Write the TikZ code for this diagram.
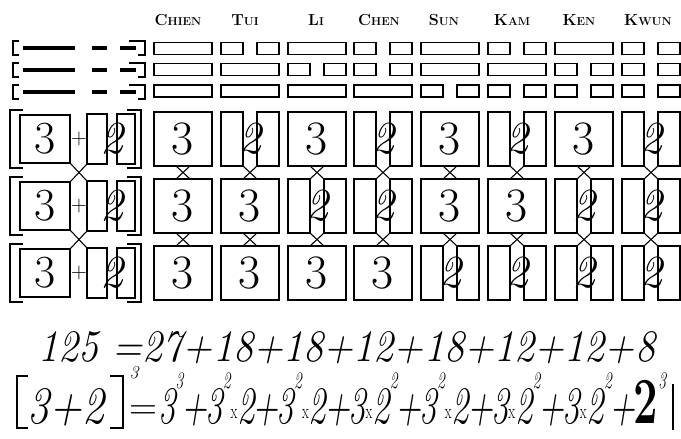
\documentclass[tikz,border=0pt]{standalone}
\usetikzlibrary{calc}
\newcommand\myexp[1]{\raisebox{0.65em}{\fontsize{18}{18}\selectfont #1}}
\newcommand\mytimes{\raisebox{0.08em}{\fontsize{16}{16}\selectfont\upshape x}}
\newcommand\mypl{\kern-0.06em+\kern-0.06em}
\newcommand\mycell[4]{%
 \ifnum#4=1
  \node[three] (#1) at (#2,#3) {3};
 \else
  \node[half] (#1l) at ({#2-18},#3) {};
  \node[half] (#1r) at ({#2+18},#3) {};
  \node[two] (#1d) at (#2,#3) {2};
 \fi
 \coordinate (#1tl) at ({#2-7},{#3-27});
 \coordinate (#1tr) at ({#2+7},{#3-27});
 \coordinate (#1bl) at ({#2-7},{#3+27});
 \coordinate (#1br) at ({#2+7},{#3+27});
}
\newcommand\mybar[4]{%
 \ifnum#4=1
  \node[yangbar] (#1) at (#2,#3) {};
 \else
  \node[yinbar] (#1l) at ({#2-18},#3) {};
  \node[yinbar] (#1r) at ({#2+18},#3) {};
 \fi
}
\tikzset{
 cellbox/.style={draw, line width=1.3pt, inner sep=0pt, minimum height=54pt},
 three/.style={cellbox, minimum width=58pt, font=\fontsize{48}{48}\selectfont},
 half/.style={cellbox, minimum width=22pt},
 two/.style={inner sep=0pt, font=\fontsize{46}{46}\selectfont\itshape},
 barbox/.style={draw, line width=1.2pt, inner sep=0pt, minimum height=12pt},
 yangbar/.style={barbox, minimum width=58pt},
 yinbar/.style={barbox, minimum width=22pt},
 xcon/.style={line width=1.1pt},
 brk/.style={line width=1.3pt},
 lthree/.style={draw, line width=1.3pt, inner sep=0pt, minimum width=50pt, minimum height=48pt, font=\fontsize{46}{46}\selectfont},
 lhalf/.style={draw, line width=1.3pt, inner sep=0pt, minimum width=20pt, minimum height=50pt},
 lplus/.style={inner sep=0pt, font=\fontsize{22}{22}\selectfont},
 lbl/.style={inner sep=0pt, font=\bfseries}
}
\begin{document}
\begin{tikzpicture}[x=1pt,y=-1pt]
\useasboundingbox (0,0) rectangle (681,439);
% top-left bracketed bars
\foreach \y/\n in {48/1,70/2,92/3}{
 \draw[line width=1.1pt] (19,{\y-7}) -- (13,{\y-7}) -- (13,{\y+7}) -- (19,{\y+7});
 \draw[line width=4pt] (23,\y) -- (75,\y);
 \draw[line width=4pt] (92,\y) -- (107,\y);
 \draw[line width=4pt] (120,\y) -- (136,\y);
 \draw[line width=1.1pt] (129,{\y-7}) -- (145,{\y-7}) -- (145,{\y+7}) -- (138,{\y+7});
}
% columns
\foreach \i/\c/\lx/\f/\rest/\a/\b/\d in {1/183/178/C/HIEN/1/1/1, 2/250/245/T/UI/0/1/1, 3/317/316/L/I/1/0/1, 4/383/379/C/HEN/0/0/1, 5/450/444/S/UN/1/1/0, 6/517/512/K/AM/0/1/0, 7/584/579/K/EN/1/0/0, 8/651/648/K/WUN/0/0/0}{
 \node[lbl] (lab\i) at (\lx,20) {\fontsize{16}{16}\selectfont\f\fontsize{11.5}{11.5}\selectfont\rest};
 \mybar{t\i-1}{\c}{48.5}{\a}
 \mybar{t\i-2}{\c}{69.5}{\b}
 \mybar{t\i-3}{\c}{91}{\d}
 \mycell{g\i-1}{\c}{139}{\a}
 \mycell{g\i-2}{\c}{206}{\b}
 \mycell{g\i-3}{\c}{273}{\d}
 \draw[xcon] (g\i-1bl) -- (g\i-2tr);
 \draw[xcon] (g\i-1br) -- (g\i-2tl);
 \draw[xcon] (g\i-2bl) -- (g\i-3tr);
 \draw[xcon] (g\i-2br) -- (g\i-3tl);
}
% left column [3+2]
\foreach \r/\y in {1/139,2/206,3/273}{
 \node[lthree] (L\r-t) at (45,\y) {3};
 \node[lplus] (L\r-p) at (79,\y) {+};
 \node[lhalf] (L\r-a) at (97,\y) {};
 \node[lhalf, minimum width=18pt] (L\r-b) at (126,\y) {};
 \node[two] (L\r-d) at (112,\y) {2};
 \draw[brk] (23,{\y-29}) -- (10,{\y-29}) -- (10,{\y+29}) -- (23,{\y+29});
 \draw[brk] (127,{\y-29}) -- (141,{\y-29}) -- (141,{\y+29}) -- (127,{\y+29});
}
\draw[xcon] (L1-t.south east) -- (L2-a.north west);
\draw[xcon] (L1-a.south west) -- (L2-t.north east);
\draw[xcon] (L2-t.south east) -- (L3-a.north west);
\draw[xcon] (L2-a.south west) -- (L3-t.north east);
% equations
\node[anchor=base west, inner sep=0pt] (eq1) at (38,361)
 {\resizebox{617pt}{30pt}{\fontsize{40}{40}\selectfont\itshape 125 =27+18+18+12+18+12+12+8}};
\draw[brk] (28,376) -- (17,376) -- (17,428) -- (28,428);
\draw[brk] (110,376) -- (123,376) -- (123,428) -- (110,428);
\node[anchor=base, inner sep=0pt] (eq2a) at (66,423)
 {\resizebox{77pt}{35pt}{\fontsize{40}{40}\selectfont\itshape 3+2}};
\node[inner sep=0pt, font=\fontsize{18}{18}\selectfont\itshape] (eq2e) at (134,373) {3};
\node[anchor=base west, inner sep=0pt] (eq2q) at (129,419)
 {\resizebox{28pt}{!}{\fontsize{40}{40}\selectfont =}};
\node[anchor=base west, inner sep=0pt] (eq2b) at (158,423)
 {\resizebox{508pt}{50pt}{\fontsize{40}{40}\selectfont\itshape 3\myexp{3}\mypl3\myexp{2}\mytimes2\mypl3\myexp{2}\mytimes2\mypl3\mytimes2\myexp{2}\mypl3\myexp{2}\mytimes2\mypl3\mytimes2\myexp{2}\mypl3\mytimes2\myexp{2}\mypl{\fontsize{50}{50}\selectfont\upshape\bfseries 2}\myexp{3}}};
\draw[brk] (673,384) -- (673,430);
\end{tikzpicture}
\end{document}
